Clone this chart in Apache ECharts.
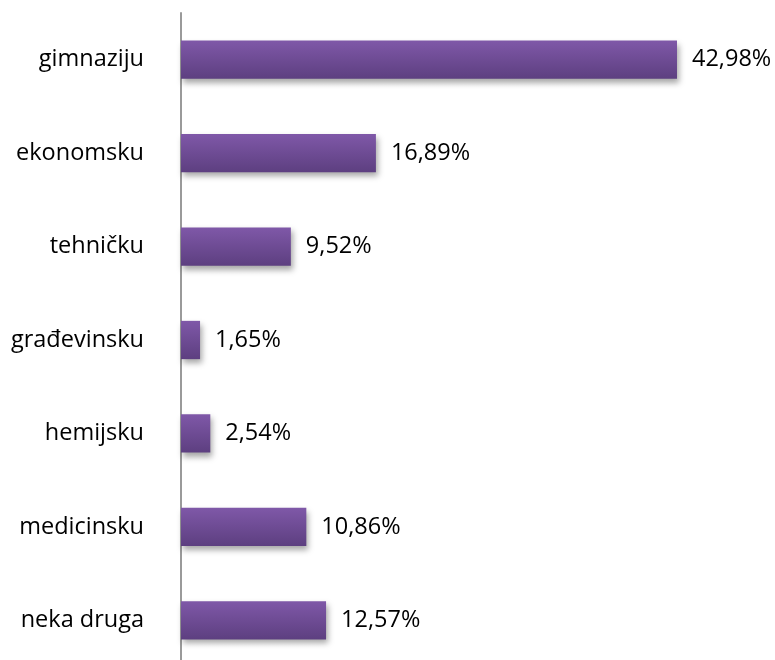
<!DOCTYPE html>
<html>
<head>
<meta charset="utf-8">
<script src="https://cdn.jsdelivr.net/npm/echarts@6/dist/echarts.min.js"></script>
<style>html,body{margin:0;padding:0;background:#fff;overflow:hidden}#c{width:775px;height:670px}</style>
</head>
<body>
<div id="c"></div>
<script>
var categories = ['gimnaziju', 'ekonomsku', 'tehničku', 'građevinsku', 'hemijsku', 'medicinsku', 'neka druga'];
var values = [42.98, 16.89, 9.52, 1.65, 2.54, 10.86, 12.57];

var chart = echarts.init(document.getElementById('c'));
chart.setOption({
  animation: false,
  backgroundColor: '#ffffff',
  grid: { left: 181, top: 13, width: 577, bottom: 3, containLabel: false },
  xAxis: { type: 'value', min: 0, max: 50, show: false },
  yAxis: {
    type: 'category', data: categories, inverse: true,
    axisLine: { show: true, lineStyle: { color: '#9a9a9a', width: 2 } },
    axisTick: { show: false },
    axisLabel: { color: '#000', fontSize: 23.5, margin: 37, fontFamily: '"Open Sans", sans-serif' }
  },
  series: [{
    type: 'bar', data: values, barCategoryGap: '59%',
    itemStyle: {
      color: new echarts.graphic.LinearGradient(0, 0, 0, 1, [
        { offset: 0, color: '#7f58a8' },
        { offset: 1, color: '#5d3f80' }
      ]),
      shadowColor: 'rgba(0,0,0,0.35)', shadowBlur: 6, shadowOffsetX: 2, shadowOffsetY: 4
    },
    label: {
      show: true, position: 'right', distance: 15, color: '#000', fontSize: 23.5,
      fontFamily: '"Open Sans", sans-serif',
      formatter: function (p) { return p.value.toFixed(2).replace('.', ',') + '%'; }
    }
  }]
});
</script>
</body>
</html>
